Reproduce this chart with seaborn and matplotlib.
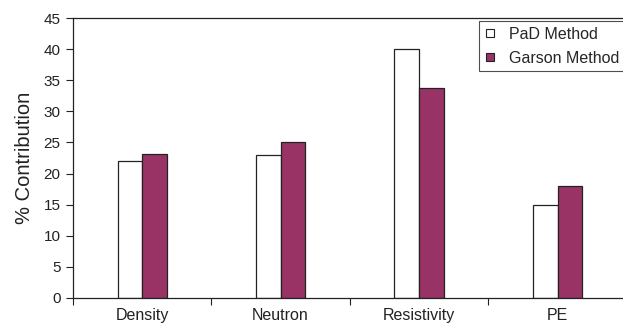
import matplotlib
matplotlib.use("Agg")
import matplotlib.pyplot as plt
import seaborn as sns
import pandas as pd
from matplotlib.lines import Line2D
from matplotlib.ticker import FixedLocator

categories = ["Density", "Neutron", "Resistivity", "PE"]
pad_values = [22.0, 23.0, 40.0, 15.0]
garson_values = [23.2, 25.0, 33.7, 18.0]
series_names = ["PaD Method", "Garson Method"]
colors = ["#ffffff", "#993366"]

df = pd.DataFrame({
    "Variable": categories * 2,
    "Contribution": pad_values + garson_values,
    "Method": [series_names[0]] * len(categories) + [series_names[1]] * len(categories),
})

sns.set_style("white")
plt.rcParams['font.family'] = ['Liberation Sans', 'DejaVu Sans']

fig = plt.figure(figsize=(6.23, 3.27), dpi=100)
ax = fig.add_axes([0.117, 0.0887, 0.889, 0.856])

sns.barplot(data=df, x="Variable", y="Contribution", hue="Method",
            order=categories, hue_order=series_names, palette=colors,
            width=0.355, gap=0, edgecolor="#222222", linewidth=0.9,
            saturation=1, legend=False, ax=ax)

ax.set_xlim(-0.5, len(categories) - 0.5)
ax.set_ylim(0, 45)
ax.set_yticks(range(0, 46, 5))
ax.set_xlabel("")
ax.set_ylabel("% Contribution", fontsize=14.5, color="#222222", labelpad=7)

ax.tick_params(axis="y", which="major", direction="out", length=5, width=0.8,
               labelsize=11, colors="#222222", left=True, pad=4)
ax.tick_params(axis="x", which="major", length=0, labelsize=11.5, colors="#222222", pad=7)
ax.xaxis.set_minor_locator(FixedLocator([i - 0.5 for i in range(len(categories) + 1)]))
ax.tick_params(axis="x", which="minor", direction="out", length=5, width=0.8,
               bottom=True, color="#222222")

for side in ["left", "bottom", "top"]:
    ax.spines[side].set_visible(True)
    ax.spines[side].set_color("#222222")
    ax.spines[side].set_linewidth(0.9)
ax.spines["right"].set_visible(False)

handles = [Line2D([], [], marker="s", linestyle="", markersize=5.5,
                  markerfacecolor=c, markeredgecolor="#222222", markeredgewidth=0.8)
           for c in colors]
leg = fig.legend(handles, series_names, loc="upper right", bbox_to_anchor=(1.003, 0.935),
                 frameon=True, fancybox=False, fontsize=11.5, handlelength=0.6,
                 handletextpad=0.9, borderpad=0.35, borderaxespad=0,
                 labelspacing=0.55)
leg.get_frame().set_edgecolor("#222222")
leg.get_frame().set_linewidth(0.8)

fig.savefig("out.png", dpi=100)
